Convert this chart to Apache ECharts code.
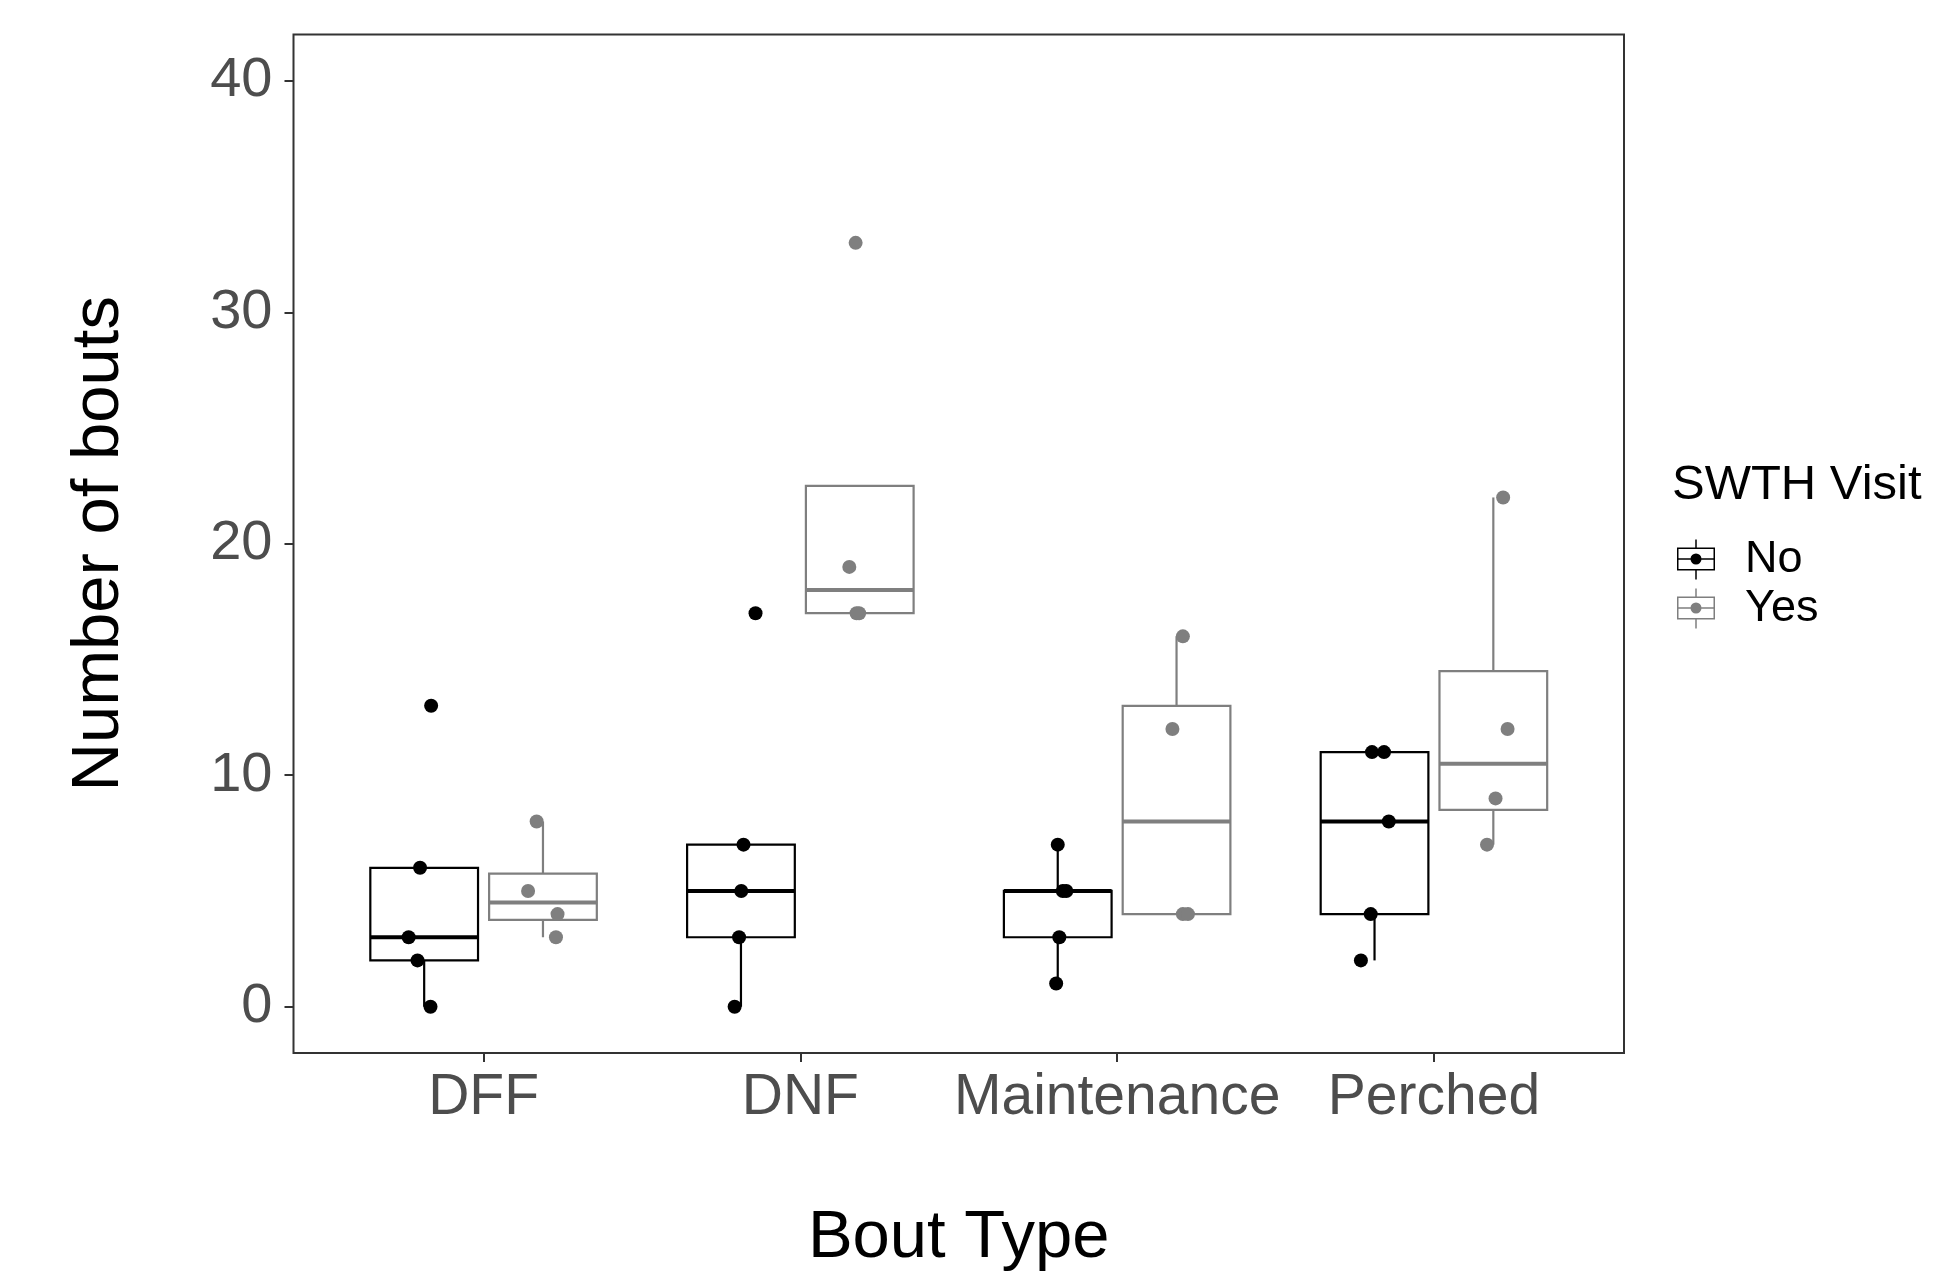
<!DOCTYPE html>
<html lang="en">
<head>
<meta charset="utf-8">
<title>Number of bouts by bout type</title>
<script src="https://cdn.jsdelivr.net/npm/echarts@6.0.0/dist/echarts.min.js"></script>
<style>
  html, body { margin: 0; padding: 0; background: #fff; }
  #chart { width: 1934px; height: 1274px; }
</style>
</head>
<body>
<div id="chart"></div>
<script>
var boutTypes = ['DFF', 'DNF', 'Maintenance', 'Perched'];
var visitGroups = ['No', 'Yes'];
var yTicks = [0, 10, 20, 30, 40];

// bouts per bird for each bout type
var boutsNo = [
    [13, 6, 3, 2, 0],
    [17, 7, 5, 3, 0],
    [7, 5, 5, 3, 1],
    [11, 11, 8, 4, 2]
];
var boutsYes = [
    [8, 5, 4, 3],
    [33, 19, 17, 17],
    [16, 12, 4, 4],
    [22, 12, 9, 7]
];
// horizontal jitter of each point, in category units
var jitterNo = [
    [0.022, -0.013, -0.049, -0.021, 0.020],
    [0.046, 0.008, 0.001, -0.006, -0.020],
    [0.000, 0.016, 0.027, 0.005, -0.005],
    [-0.008, 0.030, 0.045, -0.012, -0.043]
];
var jitterYes = [
    [-0.020, -0.047, 0.046, 0.041],
    [-0.013, -0.033, -0.002, -0.010],
    [0.020, -0.013, 0.020, 0.036],
    [0.031, 0.045, 0.007, -0.020]
];

var DODGE = 0.1875;
var BOX_W = 0.34;
var colors = { No: '#000000', Yes: '#7f7f7f' };
var FONT = 'Liberation Sans, Arial, sans-serif';

// quantile type 7 (same as R default)
function quantile(s, p) {
    var h = (s.length - 1) * p, lo = Math.floor(h);
    var next = lo + 1 < s.length ? s[lo + 1] : s[lo];
    return s[lo] + (h - lo) * (next - s[lo]);
}
function boxStats(vals) {
    var s = vals.slice().sort(function (a, b) { return a - b; });
    var q1 = quantile(s, 0.25), med = quantile(s, 0.5), q3 = quantile(s, 0.75);
    var iqr = q3 - q1;
    var inside = s.filter(function (v) { return v >= q1 - 1.5 * iqr && v <= q3 + 1.5 * iqr; });
    return [Math.min.apply(null, inside), q1, med, q3, Math.max.apply(null, inside)];
}

function boxData(bouts, off) {
    return bouts.map(function (vals, i) {
        return [i + off].concat(boxStats(vals));
    });
}
function pointData(bouts, jit, off) {
    var out = [];
    bouts.forEach(function (vals, i) {
        vals.forEach(function (v, j) { out.push([i + off + jit[i][j], v]); });
    });
    return out;
}

function boxRenderer(color) {
    return function (params, api) {
        var x = api.value(0);
        var tl = api.coord([x - BOX_W / 2, api.value(4)]);
        var br = api.coord([x + BOX_W / 2, api.value(2)]);
        var mL = api.coord([x - BOX_W / 2, api.value(3)]);
        var mR = api.coord([x + BOX_W / 2, api.value(3)]);
        var wLo = api.coord([x, api.value(1)]);
        var wHi = api.coord([x, api.value(5)]);
        var line = { stroke: color, lineWidth: 2.2 };
        return {
            type: 'group',
            children: [
                { type: 'line', shape: { x1: wHi[0], y1: wHi[1], x2: wHi[0], y2: tl[1] }, style: line },
                { type: 'line', shape: { x1: wLo[0], y1: wLo[1], x2: wLo[0], y2: br[1] }, style: line },
                { type: 'rect', shape: { x: tl[0], y: tl[1], width: br[0] - tl[0], height: br[1] - tl[1] },
                  style: { fill: '#fff', stroke: color, lineWidth: 2.2 } },
                { type: 'line', shape: { x1: mL[0], y1: mL[1], x2: mR[0], y2: mR[1] },
                  style: { stroke: color, lineWidth: 4 } }
            ]
        };
    };
}

// legend key: whiskers, box, median and a dot
var keyIcon = 'path://M18.25,0L19.75,0L19.75,8L18.25,8Z' +
    'M0,8L38,8L38,31L0,31Z' +
    'M1.5,9.5L1.5,29.5L36.5,29.5L36.5,9.5Z' +
    'M1.5,18.75L36.5,18.75L36.5,20.25L1.5,20.25Z' +
    'M18.25,31L19.75,31L19.75,40L18.25,40Z' +
    'M13.5,19.5A5.5,5.5 0 0,1 24.5,19.5A5.5,5.5 0 0,1 13.5,19.5Z';

var chart = echarts.init(document.getElementById('chart'));

var series = [];
[['No', boutsNo, jitterNo, -DODGE], ['Yes', boutsYes, jitterYes, DODGE]].forEach(function (g) {
    series.push({
        name: g[0],
        type: 'custom',
        renderItem: boxRenderer(colors[g[0]]),
        encode: { x: 0, y: [1, 2, 3, 4, 5] },
        data: boxData(g[1], g[3]),
        z: 2
    });
});
[['No', boutsNo, jitterNo, -DODGE], ['Yes', boutsYes, jitterYes, DODGE]].forEach(function (g) {
    series.push({
        name: g[0],
        type: 'scatter',
        symbol: 'circle',
        symbolSize: 14,
        itemStyle: { color: colors[g[0]], opacity: 1 },
        data: pointData(g[1], g[2], g[3]),
        z: 3
    });
});

chart.setOption({
    animation: false,
    backgroundColor: '#fff',
    textStyle: { fontFamily: FONT },
    grid: {
        left: 293.5, right: 310, top: 34.5, bottom: 221,
        containLabel: false, outerBoundsMode: 'none',
        show: true, borderColor: '#333', borderWidth: 2, backgroundColor: 'transparent'
    },
    xAxis: {
        type: 'value',
        min: -0.6, max: 3.6,
        name: 'Bout Type',
        nameLocation: 'middle',
        nameGap: 152,
        nameTextStyle: { fontSize: 67, color: '#000', fontFamily: FONT },
        axisLine: { show: false, onZero: false },
        splitLine: { show: false },
        axisTick: { show: true, length: 9, customValues: [0, 1, 2, 3], lineStyle: { color: '#333', width: 2 } },
        axisLabel: {
            customValues: [0, 1, 2, 3],
            margin: 17,
            fontSize: 57, color: '#4d4d4d', fontFamily: FONT,
            formatter: function (v) { return boutTypes[Math.round(v)]; }
        }
    },
    yAxis: {
        type: 'value',
        min: -2, max: 42,
        name: 'Number of bouts',
        nameLocation: 'middle',
        nameGap: 160,
        nameRotate: 90,
        nameTextStyle: { fontSize: 67, color: '#000', fontFamily: FONT },
        axisLine: { show: false, onZero: false },
        splitLine: { show: false },
        axisTick: { show: true, length: 9, customValues: yTicks, lineStyle: { color: '#333', width: 2 } },
        axisLabel: { customValues: yTicks, margin: 21, fontSize: 56, color: '#4d4d4d', fontFamily: FONT }
    },
    legend: {
        orient: 'vertical',
        left: 1677, top: 537,
        padding: 0,
        itemWidth: 38, itemHeight: 40, itemGap: 4,
        selectedMode: false,
        textStyle: { fontSize: 45, lineHeight: 40, color: '#000', fontFamily: FONT, padding: [0, 0, 0, 25] },
        data: visitGroups.map(function (g) {
            return { name: g, icon: keyIcon, itemStyle: { color: colors[g], borderWidth: 0 } };
        })
    },
    graphic: [{
        type: 'text',
        left: 1672, top: 461,
        style: { text: 'SWTH Visit', font: '49px ' + FONT, fill: '#000' }
    }],
    series: series
});
</script>
</body>
</html>
